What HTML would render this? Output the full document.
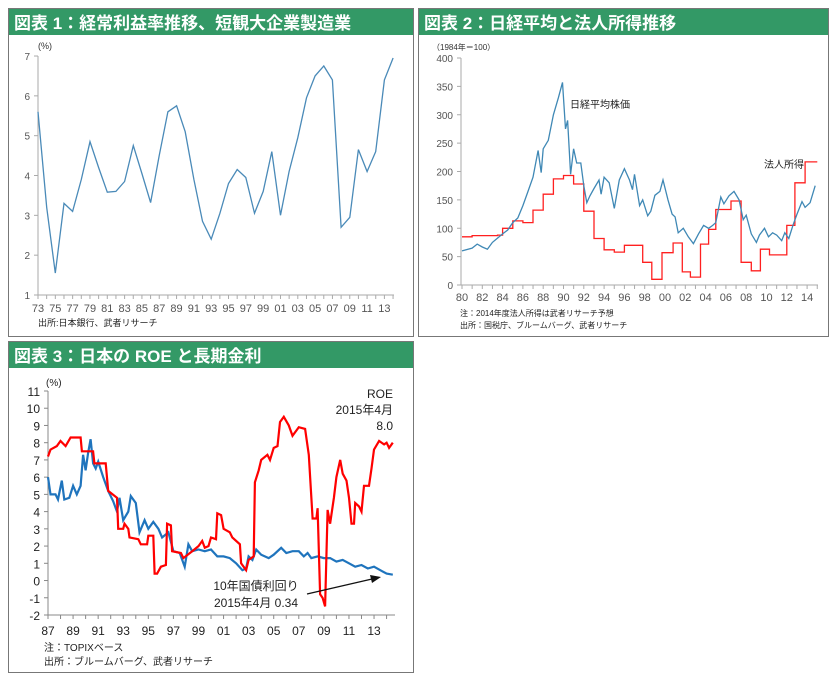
<!DOCTYPE html>
<html><head><meta charset="utf-8"><style>
body{margin:0;background:#fff;width:837px;height:681px;overflow:hidden;font-family:"Liberation Sans","Noto Sans CJK JP",sans-serif}
svg{position:absolute;left:0;top:0}
</style></head><body>
<svg id="s" width="837" height="681" xmlns="http://www.w3.org/2000/svg" font-family="Liberation Sans, Noto Sans CJK JP, sans-serif">
<rect x="8.5" y="8.5" width="405" height="328" fill="#fff" stroke="#777"/>
<rect x="9" y="9" width="404" height="26" fill="#339966"/>
<text x="14" y="29" font-size="17" font-weight="bold" fill="#fff">図表 1：経常利益率推移、短観大企業製造業</text>
<rect x="418.5" y="8.5" width="410" height="328" fill="#fff" stroke="#777"/>
<rect x="419" y="9" width="409" height="26" fill="#339966"/>
<text x="424" y="29" font-size="17" font-weight="bold" fill="#fff">図表 2：日経平均と法人所得推移</text>
<rect x="8.5" y="341.5" width="405" height="331" fill="#fff" stroke="#777"/>
<rect x="9" y="342" width="404" height="26" fill="#339966"/>
<text x="14" y="362" font-size="17" font-weight="bold" fill="#fff">図表 3：日本の ROE と長期金利</text>
<g id="g"></g>
</svg>
<script>
var g=document.getElementById('g'),h='';
function P(pts,fx,fy){return pts.map(function(p,i){return (i?'L':'M')+fx(p[0]).toFixed(1)+','+fy(p[1]).toFixed(1)}).join('')}
function T(x,y,t,sz,anc,col){h+='<text x="'+x+'" y="'+y+'" font-size="'+sz+'" text-anchor="'+(anc||'start')+'" fill="'+(col||'#444')+'">'+t+'</text>'}
// Panel 1
var x1=function(y){return 38+(y-73)*8.66},y1=function(v){return 295-(v-1)*39.83};
h+='<path d="M38,56V295H394" stroke="#aaa" fill="none"/>';
for(var v=1;v<=7;v++){h+='<path d="M34,'+y1(v)+'H38" stroke="#aaa"/>';T(30,y1(v)+4,v,10,'end','#555')}
for(var yr=73;yr<=114;yr++){h+='<path d="M'+x1(yr)+',295V299" stroke="#aaa"/>';if((yr-73)%2==0)T(x1(yr),312,String(yr%100).padStart(2,'0'),11,'middle','#555')}
T(38,49,'(%)',9,'start','#333');T(38,326,'出所:日本銀行、武者リサーチ',9,'start','#222');
var d1=[5.6,3.2,1.55,3.3,3.1,3.9,4.85,4.2,3.58,3.6,3.85,4.75,4.05,3.32,4.5,5.6,5.75,5.1,3.9,2.85,2.4,3.05,3.8,4.15,3.95,3.05,3.6,4.6,3.0,4.1,4.95,5.95,6.5,6.75,6.4,2.7,2.95,4.65,4.1,4.6,6.4,6.95];
h+='<path d="'+P(d1.map(function(v,i){return[73+i,v]}),x1,y1)+'" stroke="#4a8ab8" stroke-width="1.3" fill="none"/>';
// Panel 2
var x2=function(y){return 462+(y-80)*10.15},y2=function(v){return 285-v*0.5675};
h+='<path d="M461,58V285H818" stroke="#aaa" fill="none"/>';
for(v=0;v<=400;v+=50){h+='<path d="M457,'+y2(v)+'H461" stroke="#aaa"/>';T(453,y2(v)+4,v,10,'end','#555')}
for(yr=80;yr<=115;yr++){h+='<path d="M'+x2(yr)+',285V289" stroke="#aaa"/>';if(yr%2==0&&yr<=114)T(x2(yr),301,String(yr%100).padStart(2,'0'),11,'middle','#555')}
T(432,50,'（1984年＝100）',8,'start','#333');T(460,316,'注：2014年度法人所得は武者リサーチ予想',8,'start','#222');T(460,328,'出所：国税庁、ブルームバーグ、武者リサーチ',8,'start','#222');
T(570,108,'日経平均株価',10,'start','#222');T(764,168,'法人所得',10,'start','#222');
var st=[[80,85],[81,87],[83.5,88],[84,100],[85,113],[86,110],[87,132],[88,160],[89,187],[90,193],[91,178],[92,130],[93,82],[94,62],[95,58],[96,70],[97.8,40],[98.7,10],[99.7,57],[100.8,74],[101.7,23],[102.5,14],[103.5,72],[104.3,98],[105,133],[106.5,148],[107.5,40],[108.5,25],[109.4,63],[110.3,53],[111.2,53],[112,105],[112.8,180],[113.8,217],[115,217]];
var rp=[];st.forEach(function(p,i){if(i>0)rp.push([p[0],st[i-1][1]]);rp.push(p)});
var bl=[[80,60],[81,65],[81.5,72],[82,67],[82.5,63],[83,75],[84,90],[84.5,97],[85,110],[85.5,118],[86,140],[86.5,165],[87,190],[87.5,237],[87.8,198],[88,240],[88.5,255],[89,300],[89.5,330],[89.9,357],[90.2,275],[90.4,290],[90.7,195],[91,240],[91.3,215],[91.7,215],[92,175],[92.3,145],[92.6,157],[93,170],[93.5,185],[93.7,160],[94,190],[94.5,180],[95,135],[95.5,185],[96,205],[96.5,185],[96.8,168],[97,195],[97.5,140],[97.8,150],[98.3,122],[98.6,130],[99,158],[99.5,165],[99.8,185],[100.3,150],[100.7,125],[101,120],[101.3,92],[101.8,100],[102.3,85],[102.8,73],[103.3,90],[103.8,105],[104.3,100],[104.7,105],[105,110],[105.5,155],[105.8,143],[106.3,157],[106.8,165],[107.3,150],[107.7,115],[108,123],[108.5,90],[109,75],[109.3,88],[109.8,100],[110.2,85],[110.6,92],[111,88],[111.5,78],[111.8,92],[112.2,82],[112.6,105],[113,125],[113.5,147],[113.8,137],[114.3,145],[114.8,175]];
h+='<path d="'+P(rp,x2,y2)+'" stroke="#ff2020" stroke-width="1.3" fill="none"/>';
h+='<path d="'+P(bl,x2,y2)+'" stroke="#3f88b5" stroke-width="1.3" fill="none"/>';
// Panel 3
var x3=function(y){return 48+(y-87)*12.54},y3=function(v){return 391+(11-v)*17.23};
h+='<path d="M48,391V615H395" stroke="#888" fill="none"/>';
for(v=-2;v<=11;v++){h+='<path d="M44,'+y3(v)+'H48" stroke="#888"/>';T(40,y3(v)+5,v,12,'end','#222')}
for(yr=87;yr<=114;yr++){h+='<path d="M'+x3(yr)+',615V619" stroke="#888"/>';if((yr-87)%2==0)T(x3(yr),635,String(yr%100).padStart(2,'0'),12,'middle','#222')}
T(46,386,'(%)',10,'start','#222');T(44,651,'注：TOPIXベース',10,'start','#222');T(44,665,'出所：ブルームバーグ、武者リサーチ',10,'start','#222');
T(393,398,'ROE',12,'end','#222');T(393,414,'2015年4月',12,'end','#222');T(393,430,'8.0',12,'end','#222');
T(256,590,'10年国債利回り',12,'middle','#222');T(256,607,'2015年4月 0.34',12,'middle','#222');
var rd=[[87,7.2],[87.2,7.6],[87.7,7.8],[88,8.1],[88.4,7.8],[88.8,8.3],[89.6,8.3],[89.7,7.5],[90.6,7.5],[90.7,6.8],[91.6,6.8],[91.8,5.2],[92.5,4.8],[92.6,3.0],[93,3.0],[93.1,3.3],[93.4,3.0],[93.5,2.5],[94.2,2.4],[94.4,2.1],[94.9,2.1],[95,2.6],[95.4,2.6],[95.5,0.4],[95.7,0.4],[96,0.8],[96.4,0.9],[96.5,3.3],[96.8,3.2],[96.9,1.7],[97.6,1.6],[97.8,1.3],[98.5,1.7],[99,2.0],[99.3,2.3],[99.5,1.9],[99.8,2.0],[100,2.5],[100.4,2.4],[100.5,3.9],[100.8,3.8],[101,3.0],[101.5,2.8],[101.7,2.5],[102.3,2.1],[102.4,1.0],[102.8,0.6],[103,1.2],[103.4,1.4],[103.5,5.7],[103.8,6.4],[104,7.0],[104.5,7.3],[104.7,7.0],[105,7.7],[105.3,7.8],[105.5,9.2],[105.8,9.5],[106.2,9.0],[106.5,8.4],[107,8.9],[107.5,8.8],[107.8,7.3],[108.1,3.6],[108.4,3.6],[108.5,4.2],[108.7,-0.8],[108.9,-1.0],[109.1,-1.5],[109.3,4.1],[109.5,3.3],[109.8,4.8],[110,6.0],[110.3,7.0],[110.5,6.2],[110.8,5.8],[111,4.8],[111.2,3.3],[111.4,3.3],[111.5,4.5],[111.8,4.3],[112,4.0],[112.2,5.5],[112.6,5.5],[112.8,6.5],[113,7.6],[113.4,8.1],[113.8,7.9],[114,8.0],[114.2,7.7],[114.5,8.0]];
var bd=[[87,6.0],[87.2,5.0],[87.6,5.0],[87.8,4.7],[88.1,5.8],[88.3,4.7],[88.7,4.8],[89,5.5],[89.3,5.0],[89.6,5.5],[89.8,7.3],[90,6.4],[90.2,7.4],[90.4,8.2],[90.6,6.8],[90.8,6.5],[91,6.9],[91.4,6.0],[91.8,5.2],[92.2,4.6],[92.5,4.0],[92.7,4.8],[93,3.5],[93.4,4.0],[93.6,4.9],[94,4.5],[94.3,2.8],[94.7,3.5],[95,3.0],[95.4,3.4],[95.8,3.0],[96.1,2.5],[96.6,2.8],[97,1.7],[97.5,1.6],[97.9,0.8],[98.2,2.1],[98.5,1.7],[99,1.8],[99.5,1.7],[100,1.8],[100.5,1.4],[101,1.4],[101.5,1.3],[102,1.0],[102.5,0.6],[102.8,0.7],[103,1.4],[103.3,1.2],[103.6,1.8],[104,1.5],[104.6,1.3],[105,1.5],[105.6,1.9],[106,1.6],[106.5,1.7],[107,1.7],[107.4,1.4],[107.7,1.6],[108,1.3],[108.5,1.4],[109,1.3],[109.5,1.3],[110,1.1],[110.5,1.2],[111,1.0],[111.5,0.8],[112,0.9],[112.5,0.7],[113,0.8],[113.5,0.6],[114,0.4],[114.5,0.34]];
h+='<path d="'+P(bd,x3,y3)+'" stroke="#1f74bd" stroke-width="2.2" fill="none"/>';
h+='<path d="'+P(rd,x3,y3)+'" stroke="#ff0000" stroke-width="2.2" fill="none"/>';
h+='<path d="M307,594L372,579" stroke="#111" stroke-width="1.2"/><path d="M381,577L370,575L372,583Z" fill="#111"/>';
g.innerHTML=h;
</script>
</body></html>
